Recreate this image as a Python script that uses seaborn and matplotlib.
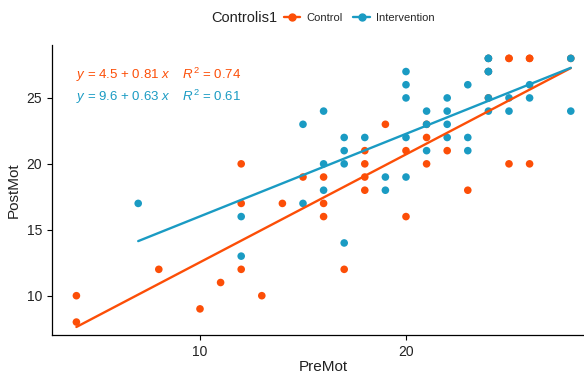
import matplotlib
matplotlib.use("Agg")
import matplotlib.pyplot as plt
from matplotlib.lines import Line2D
import seaborn as sns
import pandas as pd

groups = ["Control", "Intervention"]
colors = ["#FC4E07", "#1A9BC3"]

# Control group (a few points sit hidden under blue / duplicate points)
control_pre = [4, 4, 8, 10, 11, 12, 12, 12, 13, 14, 15, 16, 16, 16, 17, 18, 18, 18, 18, 19,
               20, 20, 21, 21, 22, 23, 24, 25, 25, 26, 26, 28, 25, 26, 24, 24, 21]
control_post = [10, 8, 12, 9, 11, 20, 17, 12, 10, 17, 19, 19, 17, 16, 12, 21, 20, 19, 18, 23,
                21, 16, 22, 20, 21, 18, 25, 28, 20, 28, 20, 28, 28, 28, 28, 27, 23]

# Intervention group (last two are duplicates of visible points)
interv_pre = [7, 12, 12, 15, 15, 16, 16, 16, 17, 17, 17, 17, 18, 19, 19, 20, 20, 20, 20, 20,
              21, 21, 21, 22, 22, 22, 22, 23, 23, 23, 24, 24, 24, 24, 25, 25, 26, 26, 28, 28,
              24, 24]
interv_post = [17, 16, 13, 23, 17, 24, 20, 18, 22, 21, 20, 14, 22, 19, 18, 27, 26, 25, 22, 19,
               24, 23, 21, 25, 24, 23, 22, 26, 22, 21, 28, 27, 25, 24, 25, 24, 26, 25, 28, 24,
               28, 27]

eq_labels = [r"$y$ = 4.5 + 0.81 $x$    $R^2$ = 0.74",
             r"$y$ = 9.6 + 0.63 $x$    $R^2$ = 0.61"]
x_ticks = [10, 20]
y_ticks = [10, 15, 20, 25]

df = pd.concat([
    pd.DataFrame({"PreMot": control_pre, "PostMot": control_post, "Controlis1": "Control"}),
    pd.DataFrame({"PreMot": interv_pre, "PostMot": interv_post, "Controlis1": "Intervention"}),
], ignore_index=True)

sns.set_style("white")
plt.rcParams["font.family"] = ["Liberation Sans", "DejaVu Sans"]
plt.rcParams["mathtext.fontset"] = "custom"
plt.rcParams["mathtext.rm"] = "Liberation Sans"
plt.rcParams["mathtext.it"] = "Liberation Sans:italic"

fig = plt.figure(figsize=(5.84, 3.75), dpi=100)
ax = fig.add_axes([0.0885, 0.106, 0.9312, 0.7735])

sns.scatterplot(data=df, x="PreMot", y="PostMot", hue="Controlis1", hue_order=groups,
                palette=colors, s=30, linewidth=0, legend=False, ax=ax, zorder=2)
for g, c in zip(groups, colors):
    sns.regplot(data=df[df["Controlis1"] == g], x="PreMot", y="PostMot", scatter=False,
                ci=None, color=c, line_kws={"lw": 1.7, "zorder": 3}, ax=ax)

ax.set_xlim(2.8, 29.2)
ax.set_ylim(7, 29)
ax.set_xticks(x_ticks)
ax.set_yticks(y_ticks)
sns.despine(ax=ax)
for s in ["left", "bottom"]:
    ax.spines[s].set_color("black")
    ax.spines[s].set_linewidth(0.9)
ax.tick_params(direction="out", length=3.5, width=0.8, color="black",
               labelsize=10, labelcolor="#222222", left=True, bottom=True)
ax.set_xlabel("PreMot", fontsize=11, color="#222222", labelpad=1)
ax.set_ylabel("PostMot", fontsize=11, color="#222222", labelpad=4)

for i, (lab, c) in enumerate(zip(eq_labels, colors)):
    ax.text(0.045, 0.898 - i * 0.077, lab, color=c, fontsize=9.5,
            transform=ax.transAxes, ha="left", va="center")

# legend on top, title to the left
fig.text(0.418, 0.953, "Controlis1", fontsize=10.5, ha="center", va="center", color="#222222")
handles = [Line2D([0], [0], color=c, lw=1.7, marker="o", markersize=5) for c in colors]
fig.legend(handles, groups, loc="center left", bbox_to_anchor=(0.486, 0.953), ncol=2,
           frameon=False, fontsize=8, handlelength=1.5, handletextpad=0.5,
           columnspacing=1.0, borderpad=0, borderaxespad=0)

plt.savefig("out.png", dpi=100)
